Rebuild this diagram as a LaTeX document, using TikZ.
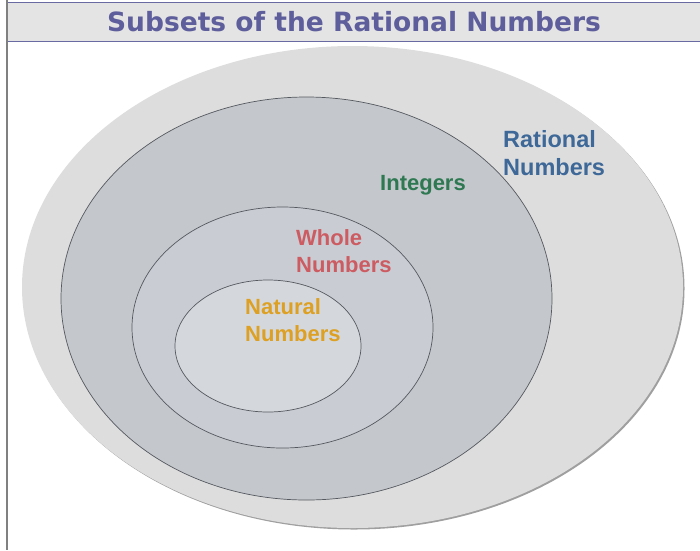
\documentclass[tikz,border=0pt]{standalone}
\usepackage{fontspec}
\setmainfont{Liberation Sans}
\newfontfamily\titlefont{DejaVu Sans}
\usetikzlibrary{shapes.geometric,shadows}

\definecolor{headfill}{HTML}{E4E4E4}
\definecolor{headline}{HTML}{6A6AA2}
\definecolor{titlecol}{HTML}{5E5E9C}
\definecolor{ratfill}{HTML}{DDDDDD}
\definecolor{intfill}{HTML}{C4C7CC}
\definecolor{wholefill}{HTML}{C9CDD3}
\definecolor{natfill}{HTML}{D4D8DC}
\definecolor{ringcol}{HTML}{55595F}
\definecolor{ratcol}{HTML}{3D6898}
\definecolor{intcol}{HTML}{2E7852}
\definecolor{wholecol}{HTML}{CC5C62}
\definecolor{natcol}{HTML}{DDA022}

\begin{document}
\begin{tikzpicture}[
  x=1pt, y=-1pt,
  set/.style     = {ellipse, inner sep=0pt, draw=ringcol, line width=0.7pt},
  setlbl/.style  = {anchor=north west, inner sep=0pt, align=left,
                    font=\fontsize{22}{27}\selectfont\bfseries},
  titlelbl/.style = {font=\fontsize{26.5}{30}\selectfont\titlefont\bfseries, text=titlecol}
]
\useasboundingbox (0,0) rectangle (700,550);

% ---- header band ----
\fill[headfill] (7,2) rectangle (700,41);
\draw[headline, line width=1pt] (7,2) -- (700,2);
\draw[headline, line width=1pt] (7,41) -- (700,41);
\node[titlelbl] (title) at (354,22) {Subsets of the Rational Numbers};
\draw[gray, line width=2pt] (7,0) -- (7,550);

% ---- nested sets ----
\node[set, fill=ratfill, draw=none,
      general shadow={fill=gray!75, shadow xshift=1.5pt, shadow yshift=-1.5pt},
      minimum width=661pt, minimum height=482pt] (rational) at (352.5,287) {};
\node[set, fill=intfill, minimum width=491pt, minimum height=403pt] (integers) at (306.5,298.5) {};
\node[set, fill=wholefill, minimum width=301pt, minimum height=241pt] (whole) at (282.5,327.5) {};
\node[set, fill=natfill, minimum width=186pt, minimum height=132pt] (natural) at (268,346) {};

% ---- labels ----
\node[setlbl, text=ratcol, font=\fontsize{23.5}{28}\selectfont\bfseries] (ratlbl) at (503,130) {Rational\\Numbers};
\node[setlbl, text=intcol] (intlbl) at (380,175) {Integers};
\node[setlbl, text=wholecol] (wholelbl) at (296,229) {Whole\\Numbers};
\node[setlbl, text=natcol] (natlbl) at (245,298) {Natural\\Numbers};

\end{tikzpicture}
\end{document}
